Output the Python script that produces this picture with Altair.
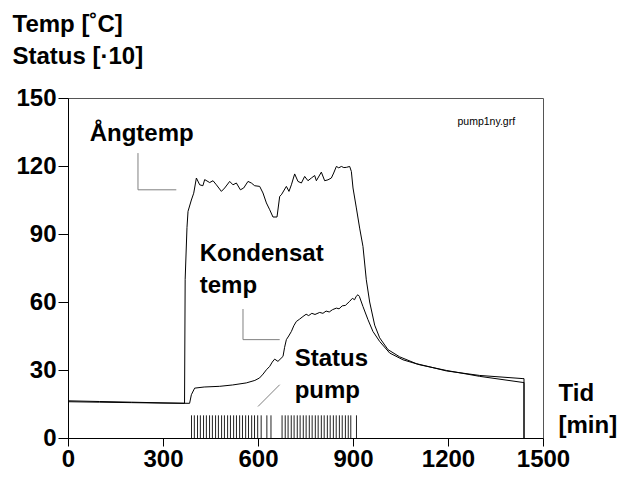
import altair as alt
import pandas as pd

# ---- data ----
ang_points = [
    (0, 16.4), (100, 16.1), (200, 15.8), (300, 15.5), (368, 15.3), (370, 70), (375.7, 92.8),
    (379, 100), (389.6, 105), (397, 108), (405.4, 114.7), (415.9, 111.7), (426, 111.3),
    (431.6, 114), (447.4, 112.7), (458, 113.5), (468.6, 111.7), (484.4, 108.8), (494.8, 110.3),
    (510.6, 113.2), (521, 111.7), (531.7, 112.5), (544.4, 109.5), (554.8, 110.3), (568.4, 113.2),
    (579, 112.5), (589.5, 111.3), (605.3, 111), (615.7, 108.1), (626.5, 103.7), (637, 100.7),
    (647.3, 97.5), (660, 97.5), (668.5, 106.6), (673.8, 107.3), (689.6, 111), (697.8, 108.8),
    (705.4, 111.7), (715.8, 116.5), (726.2, 113.2), (737, 112.5), (747.4, 115.4), (757.8, 113.5),
    (768.6, 114.7), (779, 115.8), (784.3, 113.5), (800, 117.3), (810.5, 113.5), (821, 113.9),
    (831.7, 114.7), (839, 116.9), (847.5, 119.8), (855, 119.2), (863.3, 119.8), (871, 119.3),
    (879, 119.4), (889.5, 119.8), (894.8, 117.6), (900, 110.3), (910.6, 101.5), (921, 92.6),
    (931.5, 84.5), (942, 69.8), (952.6, 60), (968.4, 49.8), (984.2, 44.2), (1010.4, 39.0),
    (1047.4, 35.8), (1100, 32.8), (1194.8, 29.6), (1300, 27.6), (1436.7, 26.2), (1440, 26.2), (1440, 0),
]
kond_points = [
    (0, 16.0), (100, 15.8), (200, 15.6), (300, 15.4), (384, 15.3), (389.6, 19.1), (400, 22),
    (430, 22.5), (479, 22.8), (520, 23.4), (563, 24.3), (590, 25.4), (605, 26.5), (616, 28.2),
    (626.5, 30.1), (637, 31.6), (645, 33.5), (652.6, 34.8), (663, 33.8), (679, 36), (684, 40),
    (689.6, 43.4), (697, 45), (705.4, 47), (713, 49.5), (721, 51.4), (731, 52.4), (742, 53.6),
    (752, 54.6), (760, 54), (770, 55), (780, 54.5), (794.8, 55.4), (805, 55), (815, 56),
    (825, 55.6), (835, 56.6), (847.5, 57.3), (856, 57), (866, 58.3), (876, 58.5), (889.5, 60.3),
    (898, 61.6), (905, 61), (910, 62.5), (915.7, 63.2), (920, 62.5), (931.5, 58), (947.3, 52.2),
    (963, 47), (984.2, 42.6), (1015.8, 37.5), (1057.8, 34.5), (1110.5, 32.3), (1194.8, 29.8),
    (1300, 27.2), (1436.7, 24.5), (1440, 24.5), (1440, 0),
]
pump_on_times = [
    390, 399, 409, 418, 428, 437, 447, 456, 466, 475, 485, 494, 504, 513, 523, 532, 542, 551,
    561, 570, 580, 589, 599, 610, 628, 641,
    676, 686, 695, 705, 714, 724, 733, 743, 752, 762, 771, 781, 790, 800, 809, 819, 828, 838,
    847, 857, 866, 876, 885, 893, 911,
]
pump_level = 10  # status 1 shown as 1*10

x_ticks = [0, 300, 600, 900, 1200, 1500]
y_ticks = [0, 30, 60, 90, 120, 150]

ann_text = ["Ångtemp", "Kondensat", "temp", "Status", "pump"]
ann_t = [68.5, 415.9, 415.9, 715.8, 715.8]
ann_v = [131.1, 77.9, 64.0, 31.6, 17.6]

file_label = "pump1ny.grf"
file_t = [1230]
file_v = [138.2]

leader_points = [
    ("a", 221, 125.7), ("a", 221, 109.5), ("a", 342, 109.5),
    ("k", 552.6, 56.9), ("k", 552.6, 43.4), ("k", 668.5, 43.4),
    ("s", 668.5, 23.5), ("s", 600, 13.9),
]

# ---- tables ----
rows = []
for i, (t, v) in enumerate(ang_points):
    rows.append({"series": "Ångtemp", "i": i, "t": t, "v": v})
for i, (t, v) in enumerate(kond_points):
    rows.append({"series": "Kondensat", "i": i, "t": t, "v": v})
lines_df = pd.DataFrame(rows)

pump_df = pd.DataFrame({"t": pump_on_times, "v": [0] * len(pump_on_times),
                        "v2": [pump_level] * len(pump_on_times)})
ann_df = pd.DataFrame({"t": ann_t, "v": ann_v, "label": ann_text})
file_df = pd.DataFrame({"t": file_t, "v": file_v, "label": [file_label]})
leader_df = pd.DataFrame([{"id": a, "i": i, "t": t, "v": v} for i, (a, t, v) in enumerate(leader_points)])

FONT = "Liberation Sans"

x_enc = alt.X("t:Q", scale=alt.Scale(domain=[0, 1500], nice=False, zero=False),
              axis=alt.Axis(values=x_ticks, format="d", grid=False, labelFlush=False,
                            labelFont=FONT, labelFontSize=24, labelFontWeight="bold",
                            labelColor="black", labelPadding=1, tickSize=8,
                            tickColor="black", domainColor="black",
                            title=["Tid", "[min]"], titleFont=FONT, titleFontSize=24,
                            titleFontWeight="bold", titleColor="black", titleAngle=0,
                            titleAlign="left", titleBaseline="alphabetic",
                            titleX=490, titleY=-38, titleLineHeight=32))
y_enc = alt.Y("v:Q", scale=alt.Scale(domain=[0, 150], nice=False, zero=False),
              axis=alt.Axis(values=y_ticks, format="d", grid=False, labelFlush=False,
                            labelFont=FONT, labelFontSize=24, labelFontWeight="bold",
                            labelColor="black", labelPadding=2, tickSize=10,
                            tickColor="black", domainColor="black",
                            title=["Temp [˚C]", "Status [·10]"], titleFont=FONT,
                            titleFontSize=24, titleFontWeight="bold", titleColor="black",
                            titleAngle=0, titleAlign="left", titleBaseline="alphabetic",
                            titleX=-56, titleY=-66.5, titleLineHeight=31.6))

curves = alt.Chart(lines_df).mark_line(color="black", strokeWidth=1).encode(
    x=x_enc, y=y_enc, detail="series:N", order="i:Q")

pump = alt.Chart(pump_df).mark_rule(color="#222222", strokeWidth=1).encode(
    x=x_enc, y=y_enc, y2="v2:Q")

leaders = alt.Chart(leader_df).mark_line(color="#808080", strokeWidth=1).encode(
    x=x_enc, y=y_enc, detail="id:N", order="i:Q")

ann = alt.Chart(ann_df).mark_text(font=FONT, fontSize=24, fontWeight="bold", color="black",
                                  align="left", baseline="alphabetic").encode(
    x=x_enc, y=y_enc, text="label:N")

flabel = alt.Chart(file_df).mark_text(font=FONT, fontSize=10.5, color="black",
                                      align="left", baseline="alphabetic").encode(
    x=x_enc, y=y_enc, text="label:N")

chart = alt.layer(pump, curves, leaders, ann, flabel).properties(
    width=475, height=340,
    autosize=alt.AutoSizeParams(type="none"),
    padding={"left": 60, "top": 90, "right": 75, "bottom": 33},
    background="white",
).configure_view(stroke="#555555", strokeWidth=1)

chart.save("out.html", embed_options={"renderer": "svg", "actions": False})
